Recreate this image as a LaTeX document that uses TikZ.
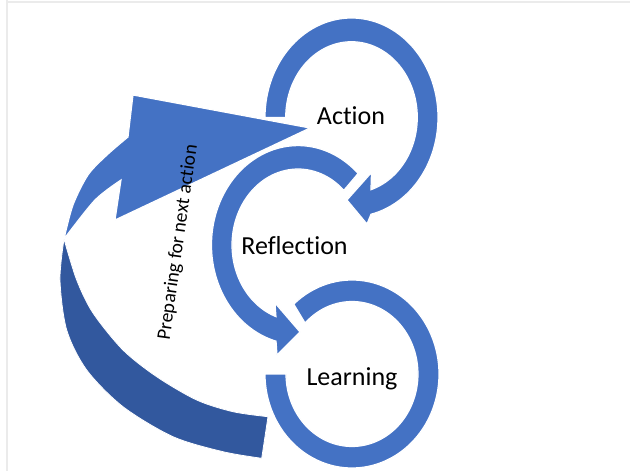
\documentclass[tikz,border=0pt]{standalone}
\usepackage{fontspec}
\setmainfont{Carlito}[Ligatures=NoCommon]
\definecolor{ringblue}{HTML}{4472C4}
\definecolor{backblue}{RGB}{50,88,158}
\begin{document}
\begin{tikzpicture}[x=1pt,y=-1pt,
  ring/.style={fill=ringblue, draw=white, line width=1.2pt, line join=miter},
  back/.style={fill=backblue, draw=white, line width=0.8pt},
  lbl/.style={font=\fontsize{26}{30}\selectfont, anchor=base, inner sep=0pt},
  frame/.style={draw=black!8, line width=1.5pt}]
\fill[white] (0,0) rectangle (630,471);
\useasboundingbox (0,0) rectangle (630,471);
\draw[frame] (7,2) -- (630,2);
\draw[frame] (7,0) -- (7,471);
% big curved arrow: back (dark) part
\path[back] plot[smooth] coordinates {(64,239) (60,280) (66.7,330) (86.7,370) (123,406.7) (173,436.7) (223,451.7) (261.7,458.3)} -- (268,416.7) -- plot[smooth] coordinates {(268,416.7) (233,411.7) (196.7,400) (156.7,376.7) (123,350) (93,313) (76.7,280) (64,239)} -- cycle;
% big curved arrow: front part with head
\path[ring] plot[smooth] coordinates {(64,239) (73,205) (88,175) (107,155) (128,137)} -- (133,95) -- (310,128) -- (115,220) -- (121,180) -- plot[smooth] coordinates {(121,180) (95,200) (64,239)} -- cycle;
% Learning ring
\path[ring] plot[domain=228:540,samples=100,variable=\t] ({352+87*cos(\t)},{374+94*sin(\t)}) -- plot[domain=540:224.7,samples=100,variable=\t] ({352+66*cos(\t)},{374+72.5*sin(\t)}) -- cycle;
% Reflection ring
\path[ring] plot[domain=-46:-255.3,samples=90,variable=\t] ({298+86.5*cos(\t)},{245+99.4*sin(\t)}) -- (277,355) -- (300,332) -- (275,303) -- plot[domain=-250.5:-46,samples=90,variable=\t] ({298+66*cos(\t)},{245+76*sin(\t)}) -- cycle;
% Action ring
\path[ring] plot[domain=180:437,samples=90,variable=\t] ({351.5+86.5*cos(\t)},{117.4+99.4*sin(\t)}) -- (367,224) -- (347,200) -- (371.5,172.5) -- plot[domain=432.8:180,samples=90,variable=\t] ({351.5+65.8*cos(\t)},{117.4+75.7*sin(\t)}) -- cycle;
% labels
\node[lbl] (action) at (351,124) {Action};
\node[lbl] (reflection) at (294.5,254) {Reflection};
\node[lbl] (learning) at (352,385.5) {Learning};
\node[font=\fontsize{19.5}{23}\selectfont, rotate=82, inner sep=0pt] (prep) at (178.3,242.3) {Preparing for next action};
\end{tikzpicture}
\end{document}
